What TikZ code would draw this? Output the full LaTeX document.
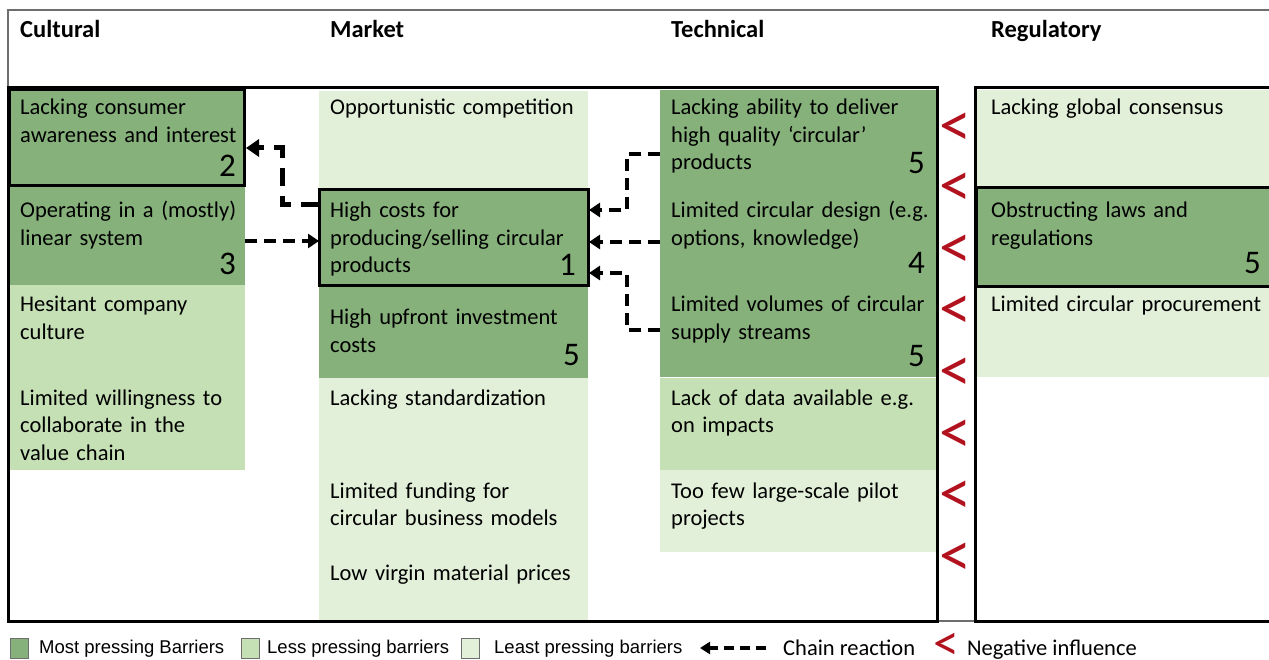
\documentclass[tikz,border=0pt]{standalone}
\usepackage{fontspec}
\setmainfont{Carlito}
\newfontfamily\legfont{Liberation Sans}
\usetikzlibrary{arrows.meta,calc}
\definecolor{gdark}{RGB}{134,177,123}
\definecolor{gmed}{RGB}{197,224,180}
\definecolor{glight}{RGB}{226,240,217}
\definecolor{negred}{RGB}{178,18,30}
\definecolor{framegrey}{RGB}{110,110,110}
\begin{document}
\begin{tikzpicture}[x=1pt,y=-1pt,
  cell/.style={rectangle,inner sep=0pt,outer sep=0pt,anchor=north west,draw=none},
  boxline/.style={draw=black,line width=3pt},
  txt/.style={anchor=base west,inner sep=0pt,align=left,text width=300pt,font=\fontsize{22.5}{27.5}\selectfont},
  head/.style={anchor=base west,inner sep=0pt,font=\fontsize{24.5}{28}\selectfont\bfseries},
  num/.style={anchor=base east,inner sep=0pt,font=\fontsize{33}{36}\selectfont},
  neg/.style={inner sep=0pt,text=negred,font=\fontsize{64}{64}\selectfont},
  chainline/.style={line width=4pt,dash pattern=on 12pt off 7pt,-{Triangle[length=11pt,width=14pt]}},
  chainthick/.style={line width=5pt,dash pattern=on 18pt off 10pt,-{Triangle[length=13pt,width=17pt]}},
  legsq/.style={rectangle,inner sep=0pt,anchor=north west,minimum width=18pt,minimum height=20pt,draw=framegrey,line width=1pt},
  legtxt/.style={anchor=base west,inner sep=0pt,font=\legfont\fontsize{18.5}{22}\selectfont},
  legtxtb/.style={anchor=base west,inner sep=0pt,font=\fontsize{22.5}{27}\selectfont}
]
\useasboundingbox (0,0) rectangle (1269,660);
\fill[white] (0,0) rectangle (1269,660);

% ---- cells (fills) ----
\node[cell,fill=gdark,minimum width=235pt,minimum height=96pt] (c1) at (9,90) {};
\node[cell,fill=gdark,minimum width=236pt,minimum height=99pt] (c2) at (9,186) {};
\node[cell,fill=gmed,minimum width=236pt,minimum height=185pt] (c3) at (9,285) {};
\node[cell,fill=glight,minimum width=269pt,minimum height=99pt] (m1) at (319,91) {};
\node[cell,fill=gdark,minimum width=269pt,minimum height=96pt] (m2) at (319,190) {};
\node[cell,fill=gdark,minimum width=269pt,minimum height=92pt] (m3) at (319,286) {};
\node[cell,fill=glight,minimum width=269pt,minimum height=243pt] (m4) at (319,378) {};
\node[cell,fill=gdark,minimum width=277pt,minimum height=287pt] (t1) at (660,90) {};
\node[cell,fill=gmed,minimum width=277pt,minimum height=92pt] (t2) at (660,378) {};
\node[cell,fill=glight,minimum width=277pt,minimum height=82pt] (t3) at (660,470) {};
\node[cell,fill=glight,minimum width=300pt,minimum height=97pt] (r1) at (976,90) {};
\node[cell,fill=gdark,minimum width=300pt,minimum height=99pt] (r2) at (976,188) {};
\node[cell,fill=glight,minimum width=300pt,minimum height=90pt] (r3) at (976,287) {};

% ---- frames ----
\draw[framegrey,line width=1.3pt] (8,10) rectangle (1280,621);
\draw[boxline] (8,88) rectangle (937,621);
\draw[boxline] (975,88) rectangle (1280,621);
\draw[boxline] (c1.north west) rectangle (c1.south east);
\draw[boxline] (m2.north west) rectangle (m2.south east);
\draw[boxline] (r2.north west) rectangle (r2.south east);

% ---- headers ----
\node[head] (hC) at (20,38) {Cultural};
\node[head] (hM) at (330,38) {Market};
\node[head] (hT) at (671,38) {Technical};
\node[head] (hR) at (991,38) {Regulatory};

% ---- texts ----
\node[txt] (tc1) at (20,115) {Lacking consumer\\awareness and interest};
\node[txt] (tc2) at (20,218) {Operating in a (mostly)\\linear system};
\node[txt] (tc3) at (20,312) {Hesitant company\\culture};
\node[txt] (tc4) at (20,405) {Limited willingness to\\collaborate in the\\value chain};
\node[txt] (tm1) at (330,115) {Opportunistic competition};
\node[txt] (tm2) at (330,218) {High costs for\\producing/selling circular\\products};
\node[txt] (tm3) at (330,325) {High upfront investment\\costs};
\node[txt] (tm4) at (330,405) {Lacking standardization};
\node[txt] (tm5) at (330,498) {Limited funding for\\circular business models};
\node[txt] (tm6) at (330,580) {Low virgin material prices};
\node[txt] (tt1) at (671,115) {Lacking ability to deliver\\high quality ‘circular’\\products};
\node[txt] (tt2) at (671,218) {Limited circular design (e.g.\\options, knowledge)};
\node[txt] (tt3) at (671,312) {Limited volumes of circular\\supply streams};
\node[txt] (tt4) at (671,405) {Lack of data available e.g.\\on impacts};
\node[txt] (tt5) at (671,498) {Too few large-scale pilot\\projects};
\node[txt] (tr1) at (991,115) {Lacking global consensus};
\node[txt] (tr2) at (991,218) {Obstructing laws and\\regulations};
\node[txt] (tr3) at (991,312) {Limited circular procurement};

% ---- numbers ----
\node[num] (n2) at (236,177) {2};
\node[num] (n3) at (236,275) {3};
\node[num] (n1) at (576,276) {1};
\node[num] (n5a) at (580,365) {5};
\node[num] (n5b) at (925,174) {5};
\node[num] (n4) at (925,274) {4};
\node[num] (n5c) at (925,366) {5};
\node[num] (n5d) at (1261,274) {5};

% ---- negative influence marks ----
\foreach \yy [count=\i] in {130,190,252,313,375,437,498,560}{
  \node[neg] (neg\i) at (955,\yy) {<};
}

% ---- chain reaction arrows ----
\draw[chainthick] ($(m2.north west)+(0,15)$) -- ++(-37,0) |- ($(c1.north east)+(2,58)$);
\draw[chainline] ($(c2.north east)+(0,55)$) -- ($(m2.north west)+(0,51)$);
\draw[chainline] ($(t1.north west)+(0,64)$) -- ++(-33,0) |- ($(m2.north east)+(1,20)$);
\draw[chainline] ($(t1.north west)+(0,152)$) -- ($(m2.north east)+(1,52)$);
\draw[chainline] ($(t1.north west)+(0,240)$) -- ++(-33,0) |- ($(m2.north east)+(1,83)$);

% ---- legend ----
\node[legsq,fill=gdark] (l1) at (10,638) {};
\node[legtxt] (lt1) at (39,653) {Most pressing Barriers};
\node[legsq,fill=gmed] (l2) at (241,638) {};
\node[legtxt] (lt2) at (267,653) {Less pressing barriers};
\node[legsq,fill=glight] (l3) at (461,638) {};
\node[legtxt] (lt3) at (494,653) {Least pressing barriers};
\coordinate (la1) at (766,648);
\coordinate (la2) at (700,648);
\draw[line width=4pt,dash pattern=on 10pt off 6pt,-{Triangle[length=10pt,width=12pt]}] (la1) -- (la2);
\node[legtxtb] (lt4) at (783,655) {Chain reaction};
\node[inner sep=0pt,text=negred,font=\fontsize{52}{52}\selectfont] (lneg) at (946,647) {<};
\node[legtxtb] (lt5) at (967,655) {Negative influence};
\end{tikzpicture}
\end{document}
